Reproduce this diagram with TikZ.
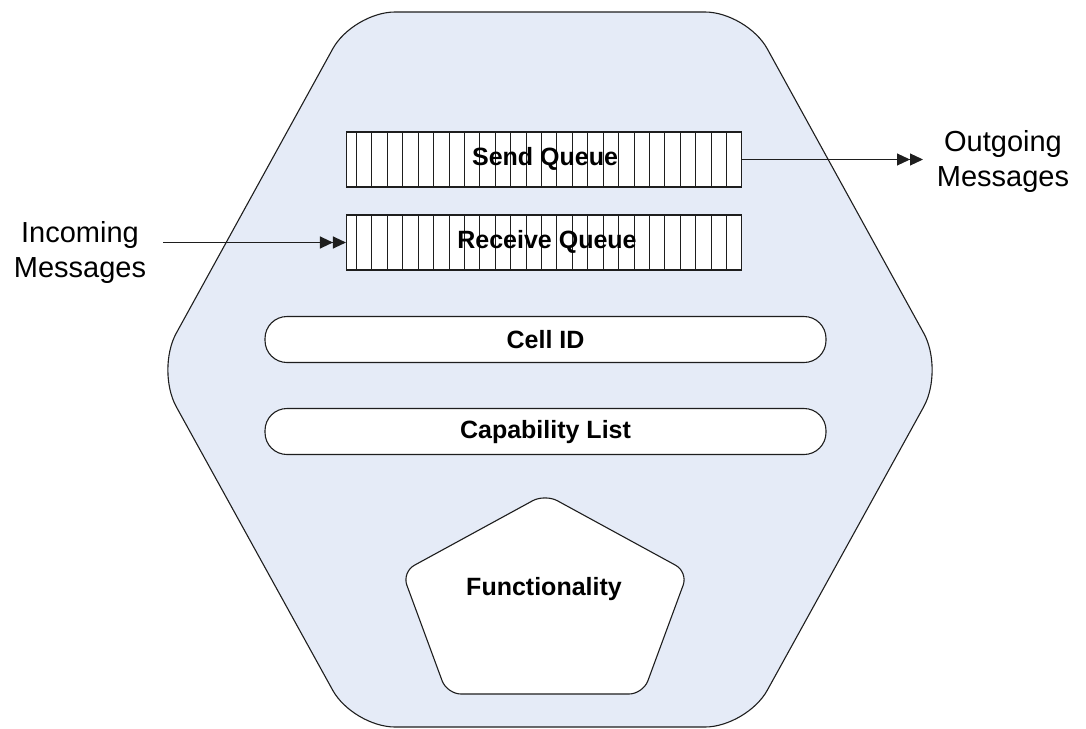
\documentclass[tikz,border=0pt]{standalone}
\usepackage{fontspec}
\setmainfont{Liberation Sans}
\usetikzlibrary{arrows.meta}
\definecolor{cellfill}{RGB}{229,235,247}
\definecolor{ink}{RGB}{30,30,30}
\begin{document}
\begin{tikzpicture}[x=1pt,y=-1pt,
  outline/.style={draw=ink,line width=1.1pt},
  boldlabel/.style={font=\fontsize{25pt}{30pt}\selectfont\bfseries,inner sep=0pt},
  outerlabel/.style={font=\fontsize{29pt}{35pt}\selectfont,align=center,inner sep=0pt},
  queuebox/.style={outline,fill=white,minimum width=395pt,minimum height=55pt,inner sep=0pt,
    path picture={\foreach \i in {0,...,24}{\draw[ink,line width=1pt]
      ([xshift=\i*15.42pt+10pt]path picture bounding box.north west) --
      ([xshift=\i*15.42pt+10pt]path picture bounding box.south west);}}},
  pill/.style={outline,fill=white,rounded corners=22pt,minimum width=561pt,minimum height=46pt,inner sep=0pt},
  msgarrow/.style={draw=ink,line width=1.1pt,-{Triangle[length=13pt,width=12pt]Triangle[length=13pt,width=12pt]}}
]
\useasboundingbox (0,0) rectangle (1086,728);
% cell outline
\draw[outline,fill=cellfill,rounded corners=42pt]
  (550,12) -- (747,12) -- (944,370) -- (747,727) -- (353,727) -- (156,370) -- (353,12) -- cycle;
% queues
\node[queuebox] (send) at (544,159.5) {};
\node[boldlabel] (sendlbl) at (545,158.5) {Send Queue};
\node[queuebox] (recv) at (544,242.5) {};
\node[boldlabel] (recvlbl) at (547,242) {Receive Queue};
% cell id and capability list
\node[pill] (cellid) at (545.5,339.5) {};
\node[boldlabel] (cellidlbl) at (545.5,340) {Cell ID};
\node[pill] (caplist) at (545.5,431.5) {};
\node[boldlabel] (caplbl) at (545.5,432) {Capability List};
% functionality pentagon
\draw[outline,fill=white,rounded corners=14pt]
  (545,694) -- (643,694) -- (688,572) -- (545,494) -- (402,572) -- (447,694) -- cycle;
\node[boldlabel] (func) at (544,589) {Functionality};
% messages
\node[outerlabel,anchor=north] (incoming) at (80,221) {Incoming\\Messages};
\node[outerlabel,anchor=north] (outgoing) at (1003,130) {Outgoing\\Messages};
\coordinate (instart) at (163,242.5);
\coordinate (outend) at (923,159.5);
\draw[msgarrow] (instart) -- (recv.west);
\draw[msgarrow] (send.east) -- (outend);
\end{tikzpicture}
\end{document}
